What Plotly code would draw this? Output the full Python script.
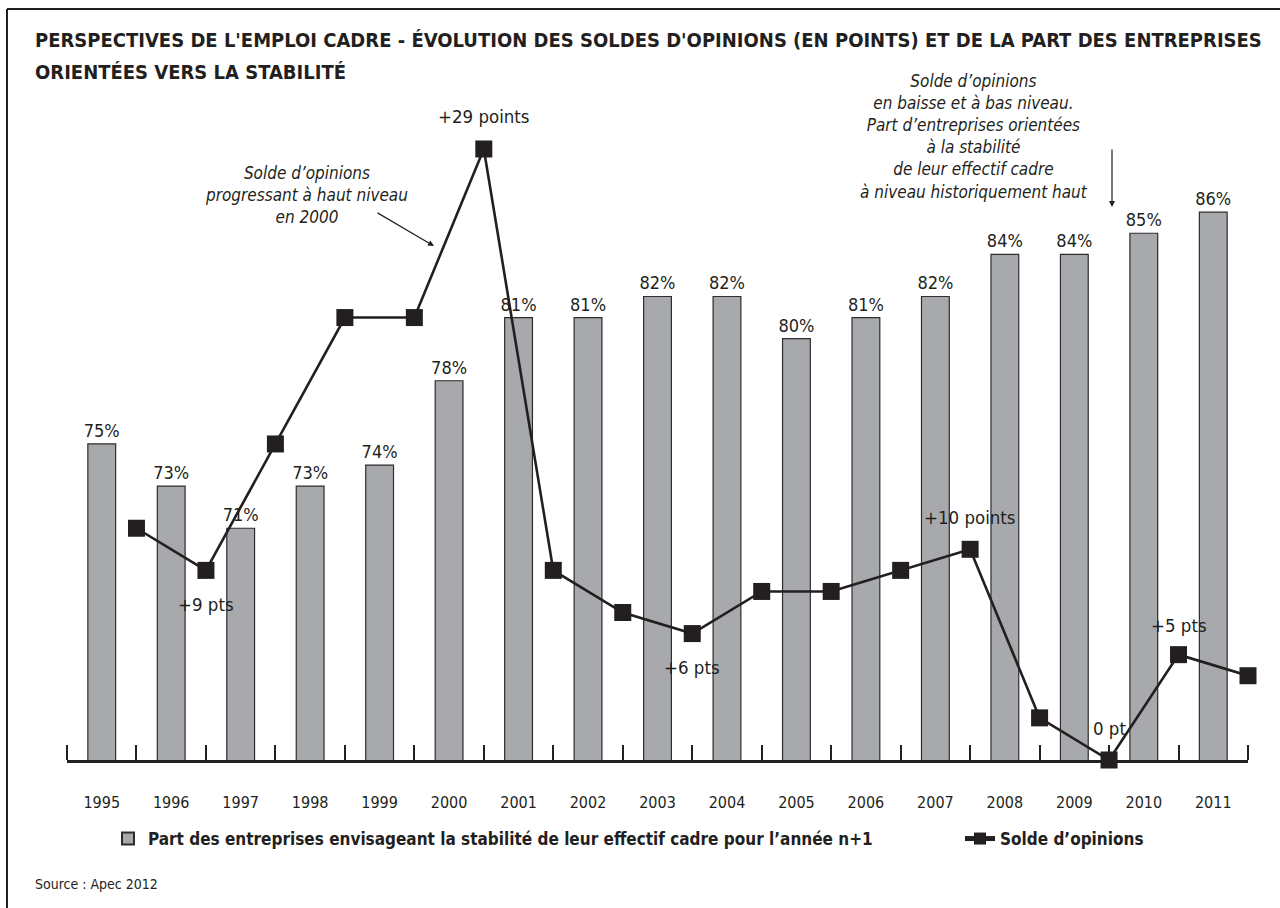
import plotly.graph_objects as go

# Years and share of firms planning stable executive headcount (%)
years = [1995, 1996, 1997, 1998, 1999, 2000, 2001, 2002, 2003, 2004,
         2005, 2006, 2007, 2008, 2009, 2010, 2011]
year_labels = [str(y) for y in years]
part_stabilite = [75, 73, 71, 73, 74, 78, 81, 81, 82, 82, 80, 81, 82, 84, 84, 85, 86]

# Opinion balance (points), plotted between the yearly bars
solde_x = [1995.5, 1996.5, 1997.5, 1998.5, 1999.5, 2000.5, 2001.5, 2002.5, 2003.5,
           2004.5, 2005.5, 2006.5, 2007.5, 2008.5, 2009.5, 2010.5, 2011.5]
solde = [11, 9, 15, 21, 21, 29, 9, 7, 6, 8, 8, 9, 10, 2, 0, 5, 4]

# Labelled points of the opinion balance: (index, text, vertical offset in px)
solde_labels = [(1, "+9 pts", -34), (5, "+29 points", 32), (8, "+6 pts", -34),
                (12, "+10 points", 32), (14, "0 pt", 32), (15, "+5 pts", 29)]

FONT = "Liberation Sans Narrow, DejaVu Sans Condensed, Arial Narrow, sans-serif"
INK = "#231f20"
GREY = "#a7a9ac"

W, H = 1280, 908
ML, MR, MT, MB = 67, 32, 90, 148
PW, PH = W - ML - MR, H - MT - MB
SPAN = 31.8  # vertical span shared by both axes (points / percentage points)


def px(x):
    return (x - ML) / PW


def py(y):
    return (H - MB - y) / PH


fig = go.Figure()

fig.add_trace(go.Bar(
    x=years, y=part_stabilite, width=0.4,
    name="<b>Part des entreprises envisageant la stabilité de leur effectif cadre pour l’année n+1</b>",
    marker=dict(color=GREY, line=dict(color="#2e2c2d", width=1.2)),
    texttemplate="%{y}%", textposition="outside", constraintext="none",
    textfont=dict(family=FONT, size=18, color=INK),
    yaxis="y", legend="legend",
))

fig.add_trace(go.Scatter(
    x=solde_x, y=solde, mode="lines+markers",
    name="<b>Solde d’opinions</b>",
    line=dict(color=INK, width=2.6),
    marker=dict(symbol="square", size=17, color=INK),
    cliponaxis=False,
    yaxis="y2", legend="legend2",
))

annotations = []
for i, txt, dy in solde_labels:
    annotations.append(dict(
        x=solde_x[i], y=solde[i], xref="x", yref="y2", text=txt,
        showarrow=False, yshift=dy, font=dict(family=FONT, size=18.5, color=INK),
    ))

# Title, one annotation per line
annotations.append(dict(
    x=px(33), y=py(40), xref="paper", yref="paper", xanchor="left", yanchor="middle",
    text=("<b>PERSPECTIVES DE L'EMPLOI CADRE - ÉVOLUTION DES SOLDES D'OPINIONS "
          "(EN POINTS) ET DE LA PART DES ENTREPRISES</b>"),
    showarrow=False, font=dict(family=FONT, size=20, color=INK),
))
annotations.append(dict(
    x=px(33), y=py(72), xref="paper", yref="paper", xanchor="left", yanchor="middle",
    text="<b>ORIENTÉES VERS LA STABILITÉ</b>",
    showarrow=False, font=dict(family=FONT, size=20, color=INK),
))

# Commentary blocks with arrows
annotations.append(dict(
    x=px(306), y=py(195), xref="paper", yref="paper", xanchor="center", yanchor="middle",
    text="Solde d’opinions<br>progressant à haut niveau<br>en 2000",
    showarrow=False, align="center",
    font=dict(family=FONT, size=17, color=INK, style="italic"),
))
annotations.append(dict(
    x=px(434), y=py(246), xref="paper", yref="paper", text="",
    showarrow=True, ax=-58, ay=-34, arrowhead=2, arrowsize=1, arrowwidth=1.2,
    arrowcolor=INK,
))
annotations.append(dict(
    x=px(974), y=py(136), xref="paper", yref="paper", xanchor="center", yanchor="middle",
    text=("Solde d’opinions<br>en baisse et à bas niveau.<br>Part d’entreprises orientées"
          "<br>à la stabilité<br>de leur effectif cadre<br>à niveau historiquement haut"),
    showarrow=False, align="center",
    font=dict(family=FONT, size=17, color=INK, style="italic"),
))
annotations.append(dict(
    x=px(1112), y=py(207), xref="paper", yref="paper", text="",
    showarrow=True, ax=0, ay=-59, arrowhead=2, arrowsize=1, arrowwidth=1.2,
    arrowcolor=INK,
))
annotations.append(dict(
    x=px(33), y=py(884), xref="paper", yref="paper", xanchor="left", yanchor="middle",
    text="Source : Apec 2012", showarrow=False,
    font=dict(family=FONT, size=14, color=INK),
))

shapes = [
    dict(type="line", xref="paper", yref="paper", x0=px(7), x1=px(1280),
         y0=py(9), y1=py(9), line=dict(color=INK, width=2)),
    dict(type="line", xref="paper", yref="paper", x0=px(7), x1=px(7),
         y0=py(9), y1=py(908), line=dict(color=INK, width=2)),
]

legend_style = dict(
    orientation="h", yanchor="middle", xanchor="left",
    bgcolor="rgba(0,0,0,0)",
    font=dict(family=FONT, size=17, color=INK),
    itemsizing="constant",
)

fig.update_layout(
    width=W, height=H,
    margin=dict(l=ML, r=MR, t=MT, b=MB),
    paper_bgcolor="white", plot_bgcolor="white",
    font=dict(family=FONT, color=INK),
    xaxis=dict(
        range=[1994.5, 2011.5], tickvals=years, ticktext=year_labels,
        ticks="", showgrid=False, zeroline=False,
        showline=True, linecolor=INK, linewidth=2.5,
        tickfont=dict(family=FONT, size=16, color=INK),
        ticklabelstandoff=26,
        minor=dict(tick0=1994.5, dtick=1, ticks="inside", ticklen=15,
                   tickwidth=2, tickcolor=INK, showgrid=False),
    ),
    yaxis=dict(range=[60, 60 + SPAN], visible=False),
    yaxis2=dict(range=[0, SPAN], visible=False, overlaying="y"),
    legend=dict(x=px(108), y=py(839), **legend_style),
    legend2=dict(x=px(960), y=py(839), **legend_style),
    showlegend=True,
    annotations=annotations, shapes=shapes,
)

fig.write_html("out.html")
